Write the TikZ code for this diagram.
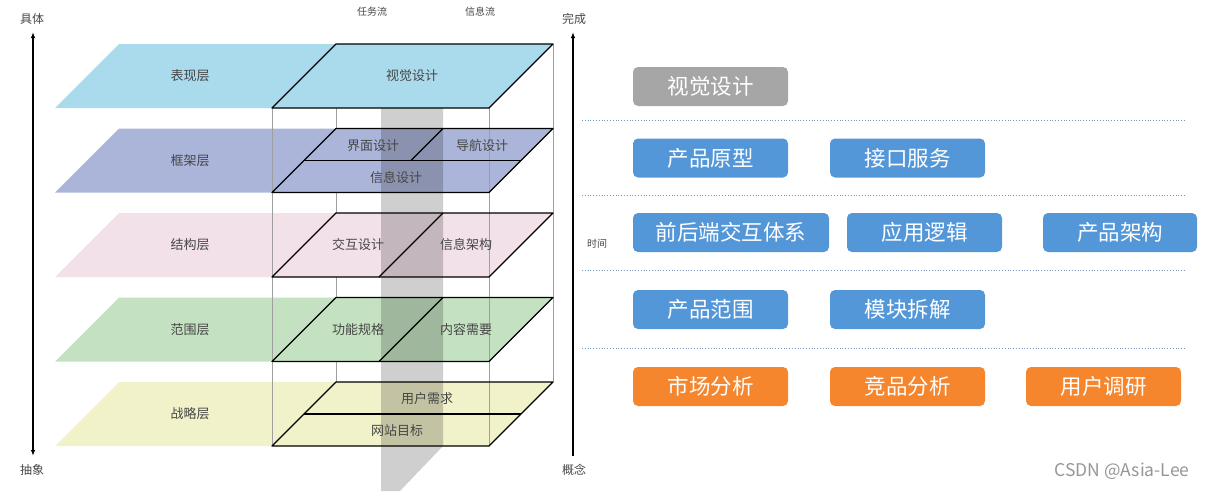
\documentclass[tikz,border=0pt]{standalone}
\usepackage{fontspec}
\setmainfont{Noto Sans CJK SC}
\usetikzlibrary{arrows.meta}
\definecolor{LA}{RGB}{170,219,236}
\definecolor{LB}{RGB}{170,181,217}
\definecolor{LC}{RGB}{242,225,233}
\definecolor{LD}{RGB}{196,226,193}
\definecolor{LE}{RGB}{241,241,202}
\definecolor{txtgray}{RGB}{70,70,70}
\definecolor{cardgray}{RGB}{166,166,166}
\definecolor{cardblue}{RGB}{84,151,216}
\definecolor{cardorange}{RGB}{245,134,46}
\definecolor{sepblue}{RGB}{120,150,190}
\definecolor{wm}{RGB}{150,150,150}
\tikzset{
  lay/.style={font=\fontsize{13}{13}\selectfont, text=txtgray, inner sep=0pt},
  small/.style={font=\fontsize{10}{10}\selectfont, text=txtgray, inner sep=0pt},
  card/.style={rounded corners=5pt, minimum height=39pt, minimum width=155pt, text=white, font=\fontsize{21.5}{21.5}\selectfont, inner sep=0pt},
  outl/.style={draw=black, line width=1.3pt, line join=round},
  vline/.style={draw=gray!75, line width=0.9pt},
  sepline/.style={draw=sepblue, dotted, line width=0.8pt},
  axis/.style={draw=black, line width=1.3pt},
}
\begin{document}
\begin{tikzpicture}[x=1pt,y=-1pt]
\useasboundingbox (0,0) rectangle (1207,491);
% back vertical lines
\draw[vline] (336,108) -- (336,382);
\draw[vline] (553,44) -- (553,382);
% layer fills
\foreach \t/\c in {44/LA,128.5/LB,213/LC,297.5/LD,382/LE}{
  \fill[\c] (55,\t+64) -- (119,\t) -- (553,\t) -- (489,\t+64) -- cycle;
}
% task/info flow band
\fill[black, opacity=0.19] (381,108) -- (443,108) -- (443,446) -- (400,491) -- (381,491) -- cycle;
% front vertical lines
\draw[vline] (272,108) -- (272,446);
\draw[vline] (489,108) -- (489,446);
% layer outlines
\foreach \t in {44,128.5,213,297.5,382}{
  \draw[outl] (272,\t+64) -- (336,\t) -- (553,\t) -- (489,\t+64) -- cycle;
}
% internal divisions
\draw[outl] (304,160.5) -- (521,160.5);
\draw[outl] (443,128.5) -- (411,160.5);
\draw[outl] (443,213) -- (379,277);
\draw[outl] (443,297.5) -- (379,361.5);
\draw[outl] (304,414) -- (521,414);
% layer labels
\node[lay] (n1) at (190,76) {表现层};
\node[lay] (n2) at (190,161) {框架层};
\node[lay] (n3) at (190,245) {结构层};
\node[lay] (n4) at (190,329.5) {范围层};
\node[lay] (n5) at (190,414) {战略层};
\node[lay] (a1) at (412,76) {视觉设计};
\node[lay] (b1) at (373,146) {界面设计};
\node[lay] (b2) at (482,146) {导航设计};
\node[lay] (b3) at (396,178) {信息设计};
\node[lay] (c1) at (358,245) {交互设计};
\node[lay] (c2) at (466,245) {信息架构};
\node[lay] (d1) at (358,329.5) {功能规格};
\node[lay] (d2) at (466,329.5) {内容需要};
\node[lay] (e1) at (427,399) {用户需求};
\node[lay] (e2) at (397,431) {网站目标};
\node[small] (f1) at (372,12) {任务流};
\node[small] (f2) at (480,12) {信息流};
% axes
\coordinate (l0) at (33,456);
\coordinate (l1) at (33,32);
\draw[axis, {Latex[length=6pt,width=4.5pt]}-{Latex[length=6pt,width=4.5pt]}] (l0) -- (l1);
\node[lay, font=\fontsize{12}{12}\selectfont] (t1) at (32,19) {具体};
\node[lay, font=\fontsize{12}{12}\selectfont] (t2) at (32,470) {抽象};
\coordinate (r0) at (573,456);
\coordinate (r1) at (573,32);
\draw[axis, -{Latex[length=6pt,width=4.5pt]}] (r0) -- (r1);
\node[lay, font=\fontsize{12}{12}\selectfont] (t3) at (574,19) {完成};
\node[lay, font=\fontsize{12}{12}\selectfont] (t4) at (574,470) {概念};
\node[small] (t5) at (597,244) {时间};
% separators
\foreach \y in {120,195,270,348}{
  \draw[sepline] (582,\y) -- (1185,\y);
}
% cards
\node[card, fill=cardgray] (k1) at (710.5,86.5) {视觉设计};
\node[card, fill=cardblue] (k2) at (710.5,158) {产品原型};
\node[card, fill=cardblue] (k3) at (907.5,158) {接口服务};
\node[card, fill=cardblue, minimum width=196pt] (k4) at (731,232.5) {前后端交互体系};
\node[card, fill=cardblue] (k5) at (924.5,232.5) {应用逻辑};
\node[card, fill=cardblue, minimum width=154pt] (k6) at (1120,232.5) {产品架构};
\node[card, fill=cardblue] (k7) at (710.5,309.5) {产品范围};
\node[card, fill=cardblue] (k8) at (907.5,309.5) {模块拆解};
\node[card, fill=cardorange] (k9) at (710.5,386.5) {市场分析};
\node[card, fill=cardorange] (k10) at (907.5,386.5) {竞品分析};
\node[card, fill=cardorange] (k11) at (1103.5,386.5) {用户调研};
% watermark
\node[text=wm, font=\fontsize{17.5}{17.5}\selectfont, inner sep=0pt] (w) at (1122,471) {CSDN @Asia-Lee};
\end{tikzpicture}
\end{document}
